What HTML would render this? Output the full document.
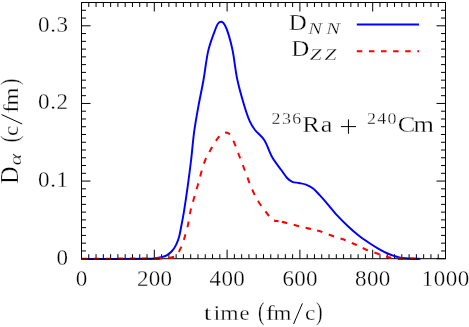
<!DOCTYPE html>
<html><head><meta charset="utf-8"><style>
html,body{margin:0;padding:0;background:#fff}
svg{display:block}
g.t{opacity:0.999}
text{font-family:"Liberation Serif",serif;fill:#000;stroke:#fff;stroke-width:0.3px}
</style></head><body>
<svg width="469" height="327" viewBox="0 0 469 327">
<rect width="469" height="327" fill="#fff"/>
<path d="M81.50 258.7v-9.0M81.50 2.5v9.0M88.78 258.7v-4.5M88.78 2.5v4.5M96.06 258.7v-4.5M96.06 2.5v4.5M103.34 258.7v-4.5M103.34 2.5v4.5M110.62 258.7v-4.5M110.62 2.5v4.5M117.90 258.7v-4.5M117.90 2.5v4.5M125.18 258.7v-4.5M125.18 2.5v4.5M132.46 258.7v-4.5M132.46 2.5v4.5M139.74 258.7v-4.5M139.74 2.5v4.5M147.02 258.7v-4.5M147.02 2.5v4.5M154.30 258.7v-9.0M154.30 2.5v9.0M161.58 258.7v-4.5M161.58 2.5v4.5M168.86 258.7v-4.5M168.86 2.5v4.5M176.14 258.7v-4.5M176.14 2.5v4.5M183.42 258.7v-4.5M183.42 2.5v4.5M190.70 258.7v-4.5M190.70 2.5v4.5M197.98 258.7v-4.5M197.98 2.5v4.5M205.26 258.7v-4.5M205.26 2.5v4.5M212.54 258.7v-4.5M212.54 2.5v4.5M219.82 258.7v-4.5M219.82 2.5v4.5M227.10 258.7v-9.0M227.10 2.5v9.0M234.38 258.7v-4.5M234.38 2.5v4.5M241.66 258.7v-4.5M241.66 2.5v4.5M248.94 258.7v-4.5M248.94 2.5v4.5M256.22 258.7v-4.5M256.22 2.5v4.5M263.50 258.7v-4.5M263.50 2.5v4.5M270.78 258.7v-4.5M270.78 2.5v4.5M278.06 258.7v-4.5M278.06 2.5v4.5M285.34 258.7v-4.5M285.34 2.5v4.5M292.62 258.7v-4.5M292.62 2.5v4.5M299.90 258.7v-9.0M299.90 2.5v9.0M307.18 258.7v-4.5M307.18 2.5v4.5M314.46 258.7v-4.5M314.46 2.5v4.5M321.74 258.7v-4.5M321.74 2.5v4.5M329.02 258.7v-4.5M329.02 2.5v4.5M336.30 258.7v-4.5M336.30 2.5v4.5M343.58 258.7v-4.5M343.58 2.5v4.5M350.86 258.7v-4.5M350.86 2.5v4.5M358.14 258.7v-4.5M358.14 2.5v4.5M365.42 258.7v-4.5M365.42 2.5v4.5M372.70 258.7v-9.0M372.70 2.5v9.0M379.98 258.7v-4.5M379.98 2.5v4.5M387.26 258.7v-4.5M387.26 2.5v4.5M394.54 258.7v-4.5M394.54 2.5v4.5M401.82 258.7v-4.5M401.82 2.5v4.5M409.10 258.7v-4.5M409.10 2.5v4.5M416.38 258.7v-4.5M416.38 2.5v4.5M423.66 258.7v-4.5M423.66 2.5v4.5M430.94 258.7v-4.5M430.94 2.5v4.5M438.22 258.7v-4.5M438.22 2.5v4.5M445.50 258.7v-9.0M445.50 2.5v9.0M81.5 258.70h9.0M445.5 258.70h-9.0M81.5 250.94h4.5M445.5 250.94h-4.5M81.5 243.17h4.5M445.5 243.17h-4.5M81.5 235.41h4.5M445.5 235.41h-4.5M81.5 227.65h4.5M445.5 227.65h-4.5M81.5 219.88h4.5M445.5 219.88h-4.5M81.5 212.12h4.5M445.5 212.12h-4.5M81.5 204.36h4.5M445.5 204.36h-4.5M81.5 196.60h4.5M445.5 196.60h-4.5M81.5 188.83h4.5M445.5 188.83h-4.5M81.5 181.07h9.0M445.5 181.07h-9.0M81.5 173.31h4.5M445.5 173.31h-4.5M81.5 165.54h4.5M445.5 165.54h-4.5M81.5 157.78h4.5M445.5 157.78h-4.5M81.5 150.02h4.5M445.5 150.02h-4.5M81.5 142.25h4.5M445.5 142.25h-4.5M81.5 134.49h4.5M445.5 134.49h-4.5M81.5 126.73h4.5M445.5 126.73h-4.5M81.5 118.97h4.5M445.5 118.97h-4.5M81.5 111.20h4.5M445.5 111.20h-4.5M81.5 103.44h9.0M445.5 103.44h-9.0M81.5 95.68h4.5M445.5 95.68h-4.5M81.5 87.91h4.5M445.5 87.91h-4.5M81.5 80.15h4.5M445.5 80.15h-4.5M81.5 72.39h4.5M445.5 72.39h-4.5M81.5 64.62h4.5M445.5 64.62h-4.5M81.5 56.86h4.5M445.5 56.86h-4.5M81.5 49.10h4.5M445.5 49.10h-4.5M81.5 41.34h4.5M445.5 41.34h-4.5M81.5 33.57h4.5M445.5 33.57h-4.5M81.5 25.81h9.0M445.5 25.81h-9.0M81.5 18.05h4.5M445.5 18.05h-4.5M81.5 10.28h4.5M445.5 10.28h-4.5M81.5 2.52h4.5M445.5 2.52h-4.5" fill="none" stroke="#000" stroke-width="1"/>
<rect x="81.5" y="2.5" width="364.0" height="256.2" fill="none" stroke="#000" stroke-width="1"/>
<path d="M81.50 258.90C87.92 258.90 108.92 258.93 120.00 258.90C131.08 258.87 142.17 258.80 148.00 258.70C153.83 258.60 152.78 258.55 155.00 258.30C157.22 258.05 159.35 257.70 161.30 257.20C163.25 256.70 164.92 256.33 166.70 255.30C168.48 254.27 170.42 252.78 172.00 251.00C173.58 249.22 175.00 247.02 176.20 244.60C177.40 242.18 178.35 239.60 179.20 236.50C180.05 233.40 180.50 230.18 181.30 226.00C182.10 221.82 182.92 218.12 184.00 211.40C185.08 204.68 186.62 194.27 187.80 185.70C188.98 177.13 190.03 169.05 191.10 160.00C192.17 150.95 192.97 140.45 194.20 131.40C195.43 122.35 196.95 114.27 198.50 105.70C200.05 97.13 201.90 89.05 203.50 80.00C205.10 70.95 206.27 59.47 208.10 51.40C209.93 43.33 212.83 36.25 214.50 31.60C216.17 26.95 216.88 25.13 218.10 23.50C219.32 21.87 220.62 21.42 221.80 21.80C222.98 22.18 224.02 23.50 225.20 25.80C226.38 28.10 227.63 31.33 228.90 35.60C230.17 39.87 231.38 44.00 232.80 51.40C234.22 58.80 235.48 70.95 237.40 80.00C239.32 89.05 242.25 98.85 244.30 105.70C246.35 112.55 247.92 117.05 249.70 121.10C251.48 125.15 252.55 126.80 255.00 130.00C257.45 133.20 261.55 135.80 264.40 140.30C267.25 144.80 269.32 152.08 272.10 157.00C274.88 161.92 278.60 166.30 281.10 169.80C283.60 173.30 285.23 176.00 287.10 178.00C288.97 180.00 290.30 180.97 292.30 181.80C294.30 182.63 296.82 182.53 299.10 183.00C301.38 183.47 303.72 183.72 306.00 184.60C308.28 185.48 310.52 186.55 312.80 188.30C315.08 190.05 317.42 192.68 319.70 195.10C321.98 197.52 323.55 199.37 326.50 202.80C329.45 206.23 333.87 211.83 337.40 215.70C340.93 219.57 344.27 222.78 347.70 226.00C351.13 229.22 354.28 232.08 358.00 235.00C361.72 237.92 366.57 241.20 370.00 243.50C373.43 245.80 375.67 247.13 378.60 248.80C381.53 250.47 384.98 252.30 387.60 253.50C390.22 254.70 392.55 255.40 394.30 256.00C396.05 256.60 396.82 256.78 398.10 257.10C399.38 257.42 400.28 257.67 402.00 257.90C403.72 258.13 405.45 258.35 408.40 258.50C411.35 258.65 417.82 258.75 419.70 258.80" fill="none" stroke="#00f" stroke-width="1.95" stroke-linejoin="round"/>
<g transform="scale(1,1.09)" fill="none" stroke="#f00" stroke-width="1.95" stroke-dasharray="5.5 6.6"><path d="M81.5 237.52L160 237.06"/><path d="M160.00 237.06C168.33 236.91 167.33 237.08 170.00 236.61C172.67 236.13 174.27 235.61 176.00 234.22C177.73 232.83 179.03 230.81 180.40 228.26C181.77 225.70 182.97 222.43 184.20 218.90C185.43 215.37 186.77 211.22 187.80 207.06C188.83 202.91 189.58 197.48 190.40 193.94C191.22 190.41 191.50 189.80 192.70 185.87C193.90 181.94 195.63 176.57 197.60 170.37C199.57 164.16 202.10 154.48 204.50 148.62C206.90 142.77 209.67 139.01 212.00 135.23C214.33 131.45 216.63 128.07 218.50 125.96C220.37 123.85 221.73 123.27 223.20 122.57C224.67 121.87 226.10 121.48 227.30 121.74C228.50 122.00 229.16 122.42 230.40 124.13C231.64 125.84 233.47 129.34 234.75 132.02C236.03 134.69 236.38 136.02 238.10 140.18C239.82 144.34 242.90 151.67 245.10 156.97C247.30 162.28 249.15 167.45 251.30 172.02C253.45 176.59 255.60 180.70 258.00 184.40C260.40 188.10 263.67 191.74 265.70 194.22C267.73 196.70 268.88 197.97 270.20 199.27C271.52 200.57 272.20 201.39 273.60 202.02C275.00 202.65 276.97 202.74 278.60 203.03" stroke-dashoffset="3.4"/><path d="M278.60 203.03C280.23 203.32 280.45 203.12 283.40 203.76C286.35 204.40 292.02 205.89 296.30 206.88C300.58 207.87 305.25 208.87 309.10 209.72C312.95 210.58 315.53 210.92 319.40 212.02C323.27 213.12 328.02 214.95 332.30 216.33C336.58 217.71 341.25 218.94 345.10 220.28C348.95 221.61 351.97 222.89 355.40 224.31C358.83 225.73 361.83 227.35 365.70 228.81C369.57 230.26 374.75 231.83 378.60 233.03C382.45 234.22 385.80 235.31 388.80 235.96C391.80 236.62 391.90 236.77 396.60 236.97C401.30 237.17 413.60 237.13 417.00 237.16" stroke-dashoffset="8.8"/></g>
<path d="M81 258.9H160M398 258.9H420.5" stroke="#000" stroke-opacity="0.5" stroke-width="2" fill="none"/>
<path d="M356.8 24.6H419" stroke="#00f" stroke-width="2" fill="none"/>
<path d="M356.8 51.2H419" stroke="#f00" stroke-width="2" stroke-dasharray="5.5 6.6" fill="none"/>
<path d="M340.9 126.6H356M348.45 119.4V133.8M293.6 324L302.4 303.4M22.2 124L1.6 114.6" stroke="#000" stroke-width="1" fill="none"/>
<g class="t"><text transform="translate(38.1,31.6) scale(0.96,1)" font-size="24" textLength="31.15" lengthAdjust="spacing">0.3</text>
<text transform="translate(38.1,109.2) scale(0.96,1)" font-size="24" textLength="31.15" lengthAdjust="spacing">0.2</text>
<text transform="translate(38.1,186.9) scale(0.96,1)" font-size="24" textLength="31.15" lengthAdjust="spacing">0.1</text>
<text transform="translate(56.6,264.5) scale(0.96,1)" font-size="24">0</text>
<text transform="translate(75.7,286.3) scale(0.96,1)" font-size="24">0</text>
<text transform="translate(136.9,286.3) scale(0.96,1)" font-size="24" textLength="36.56" lengthAdjust="spacing">200</text>
<text transform="translate(209.6,286.3) scale(0.96,1)" font-size="24" textLength="36.67" lengthAdjust="spacing">400</text>
<text transform="translate(282.4,286.3) scale(0.96,1)" font-size="24" textLength="36.67" lengthAdjust="spacing">600</text>
<text transform="translate(354.9,286.3) scale(0.96,1)" font-size="24" textLength="36.98" lengthAdjust="spacing">800</text>
<text transform="translate(421.8,286.3) scale(0.96,1)" font-size="24" textLength="49.37" lengthAdjust="spacing">1000</text>
<text transform="translate(203.8,319.9) scale(1.3,1)" font-size="21.5">t</text>
<text transform="translate(213.4,319.9) scale(1.15,1)" font-size="21.5">i</text>
<text transform="translate(220.2,319.9) scale(1.1,1)" font-size="21.5">m</text>
<text transform="translate(239.4,319.9) scale(1.05,1)" font-size="21.5">e</text>
<text transform="translate(258.0,319.9) scale(0.8,1)" font-size="24.5">(</text>
<text transform="translate(265.8,319.9) scale(1.25,1)" font-size="21.5">f</text>
<text transform="translate(273.5,319.9) scale(1.07,1)" font-size="21.5">m</text>
<text transform="translate(305.0,319.9) scale(1.08,1)" font-size="21.5">c</text>
<text transform="translate(315.9,319.9) scale(0.8,1)" font-size="24.5">)</text>
<text transform="translate(288.7,30.2) scale(1.05,1)" font-size="23.8">D</text>
<text transform="translate(308.3,33.6) scale(1.22,1)" font-size="17" font-style="italic">N</text>
<text transform="translate(326.2,33.6) scale(1.22,1)" font-size="17" font-style="italic">N</text>
<text transform="translate(291.3,55.8) scale(1.05,1)" font-size="23.8">D</text>
<text transform="translate(309.7,60) scale(1.24,1)" font-size="17.3" font-style="italic">Z</text>
<text transform="translate(324.6,60) scale(1.24,1)" font-size="17.3" font-style="italic">Z</text>
<text transform="translate(271.6,124.1) scale(1.1,1)" font-size="16.3" textLength="26.91" lengthAdjust="spacing">236</text>
<text transform="translate(302.3,131.9) scale(1.12,1)" font-size="23.5" textLength="26.96" lengthAdjust="spacing">Ra</text>
<text transform="translate(366.9,124.1) scale(1.1,1)" font-size="16.3" textLength="26.91" lengthAdjust="spacing">240</text>
<text transform="translate(397.8,131.9) scale(1.12,1)" font-size="23.5" textLength="32.32" lengthAdjust="spacing">Cm</text>
<text transform="translate(18,184) rotate(-90) scale(1.0,1)" font-size="24.3">D</text>
<text transform="translate(20.6,165.5) rotate(-90) scale(1.3,1)" font-size="17.5" font-style="italic">α</text>
<text transform="translate(18,142.3) rotate(-90) scale(0.8,1)" font-size="24.5">(</text>
<text transform="translate(18,136.1) rotate(-90) scale(1.08,1)" font-size="21.5">c</text>
<text transform="translate(18,113.2) rotate(-90) scale(1.25,1)" font-size="21.5">f</text>
<text transform="translate(18,105.5) rotate(-90) scale(1.07,1)" font-size="21.5">m</text>
<text transform="translate(18,85.3) rotate(-90) scale(0.8,1)" font-size="24.5">)</text></g>
</svg>
</body></html>
